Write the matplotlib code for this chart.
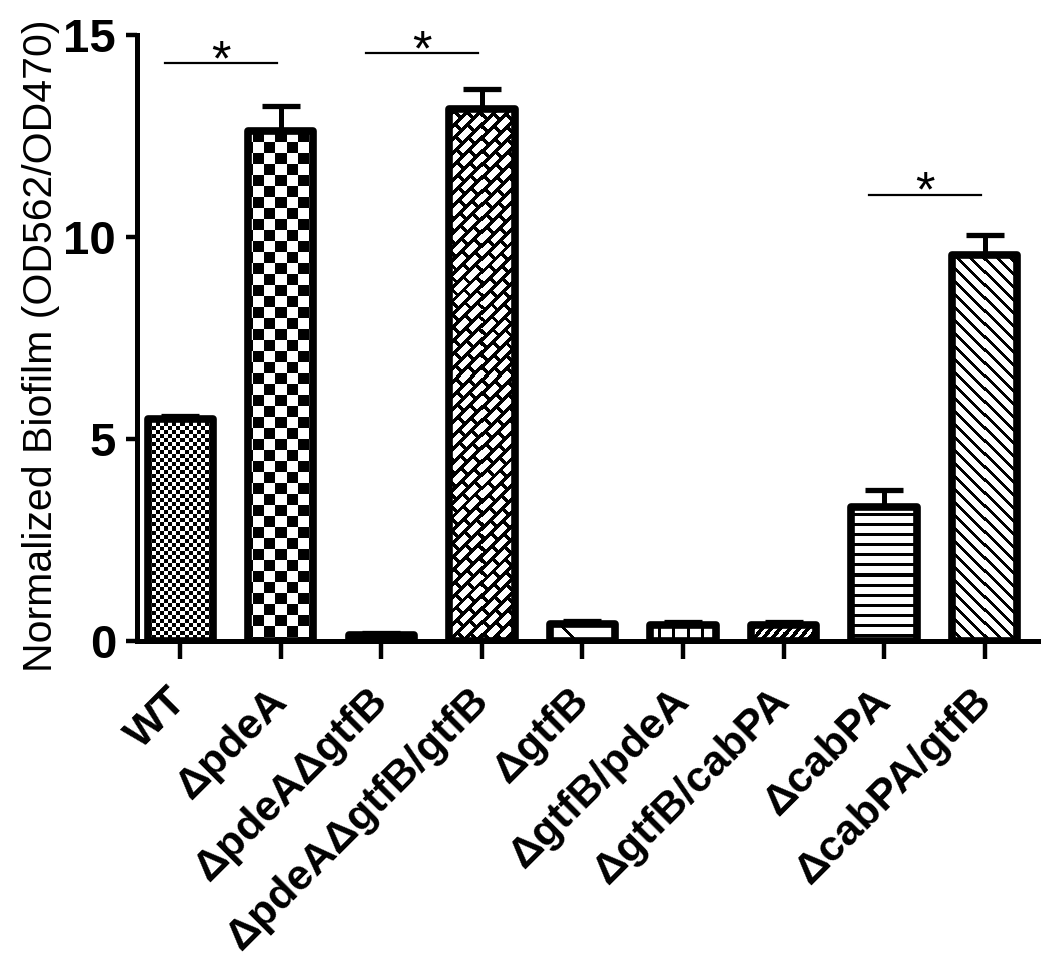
import numpy as np
import matplotlib
matplotlib.use("Agg")
import matplotlib.pyplot as plt
import matplotlib.transforms as mtrans

categories = ['WT', 'ΔpdeA', 'ΔpdeAΔgtfB', 'ΔpdeAΔgtfB/gtfB', 'ΔgtfB',
              'ΔgtfB/pdeA', 'ΔgtfB/cabPA', 'ΔcabPA', 'ΔcabPA/gtfB']
means = [5.5, 12.62, 0.14, 13.17, 0.42, 0.4, 0.4, 3.32, 9.55]
errors = [0.06, 0.62, 0.05, 0.5, 0.08, 0.06, 0.06, 0.42, 0.5]
patterns = ['fine_checker', 'checker', 'brick', 'brick', 'diag_sparse',
            'vlines', 'slash', 'hlines', 'backslash']
sig_pairs = [(0, 1), (2, 3), (7, 8)]
sig_heights = [14.3, 14.55, 11.05]
yticks = [0, 5, 10, 15]
ylabel = 'Normalized Biofilm (OD562/OD470)'

plt.rcParams['font.family'] = ['Liberation Sans', 'DejaVu Sans']

W, H = 1050, 966
fig = plt.figure(figsize=(W / 100, H / 100), dpi=100)
ax = fig.add_axes([137 / W, 325 / H, (1038 - 137) / W, (641 - 35) / H])
ax.set_xlim(-0.43, 8.53)
ax.set_ylim(0, 15)

x = np.arange(len(categories))
bw = 0.65


def texture(kind, X, Y):
    # returns 1 for white, 0 for black
    if kind == 'fine_checker':
        return (((X // 4) + (Y // 4)) % 2).astype(float)
    if kind == 'checker':
        return (((X // 11) + (Y // 11)) % 2).astype(float)
    if kind == 'brick':
        u = (X + Y) / np.sqrt(2)
        v = (Y - X) / np.sqrt(2)
        row = np.floor(v / 9.5)
        wv = (v - row * 9.5) < 6.0
        wu = ((u + (row % 2) * 8.5) % 17.0) < 13.5
        return (wv & wu).astype(float)
    if kind == 'diag_sparse':
        return (((X + Y) % 60) >= 4).astype(float)
    if kind == 'vlines':
        return ((X % 14) >= 3).astype(float)
    if kind == 'slash':
        return (((X - Y) % 9) >= 5).astype(float)
    if kind == 'hlines':
        return ((Y % 10) >= 3).astype(float)
    if kind == 'backslash':
        return (((X + Y) % 13) >= 4).astype(float)
    return np.ones_like(X, dtype=float)


# error bars (upper only), behind bars
ax.errorbar(x, means, yerr=[np.zeros(len(x)), errors], fmt='none',
            ecolor='black', elinewidth=3.6, capsize=14, capthick=3.8, zorder=1)

bars = ax.bar(x, means, width=bw, color='white', edgecolor='none', zorder=2)
fig.canvas.draw()
for b, kind in zip(bars, patterns):
    x0d, y0d = b.get_x(), 0
    x1d, y1d = b.get_x() + b.get_width(), b.get_height()
    (px0, py0) = ax.transData.transform((x0d, y0d))
    (px1, py1) = ax.transData.transform((x1d, y1d))
    nx = max(int(round(px1 - px0)), 1)
    ny = max(int(round(py1 - py0)), 1)
    jj, rr = np.meshgrid(np.arange(nx), np.arange(ny))
    X = np.round(px0).astype(int) + jj
    Y = np.round(py1).astype(int) - rr
    img = texture(kind, X, Y)
    ax.imshow(img, extent=(x0d, x1d, y0d, y1d), cmap='gray', vmin=0, vmax=1,
              interpolation='nearest', aspect='auto', zorder=3)

ax.bar(x, means, width=bw, facecolor='none', edgecolor='black',
       linewidth=5.5, joinstyle='round', zorder=4)
ax.set_xlim(-0.43, 8.53)
ax.set_ylim(0, 15)

# significance markers
for (a, b2), hgt in zip(sig_pairs, sig_heights):
    ax.plot([a - 0.15, b2 - 0.04], [hgt, hgt], color='black', lw=1.6,
            zorder=5, clip_on=False)
    ax.text((a - 0.15 + b2 - 0.04) / 2, hgt - 0.3, '*', ha='center',
            va='baseline', fontsize=36, zorder=5, clip_on=False)

for s in ['top', 'right']:
    ax.spines[s].set_visible(False)
for s in ['left', 'bottom']:
    ax.spines[s].set_linewidth(3.6)
    ax.spines[s].set_zorder(6)

ax.set_yticks(yticks)
ax.set_yticklabels([str(t) for t in yticks], fontsize=34, fontweight='bold')
ax.tick_params(axis='y', length=8, width=3.2, pad=7)
ax.tick_params(axis='x', length=13, width=3.2, pad=4)
ax.set_xticks(x)
ax.set_xticklabels(categories, fontsize=31, fontweight='bold', rotation=45,
                   ha='right', va='top', rotation_mode='anchor')
offset = mtrans.ScaledTranslation(-0.14, -0.16, fig.dpi_scale_trans)
for lab in ax.get_xticklabels():
    lab.set_transform(lab.get_transform() + offset)

ax.set_ylabel(ylabel, fontsize=29.5)
ax.yaxis.set_label_coords(-0.086, 0.488)

fig.savefig('out.png', dpi=100)
